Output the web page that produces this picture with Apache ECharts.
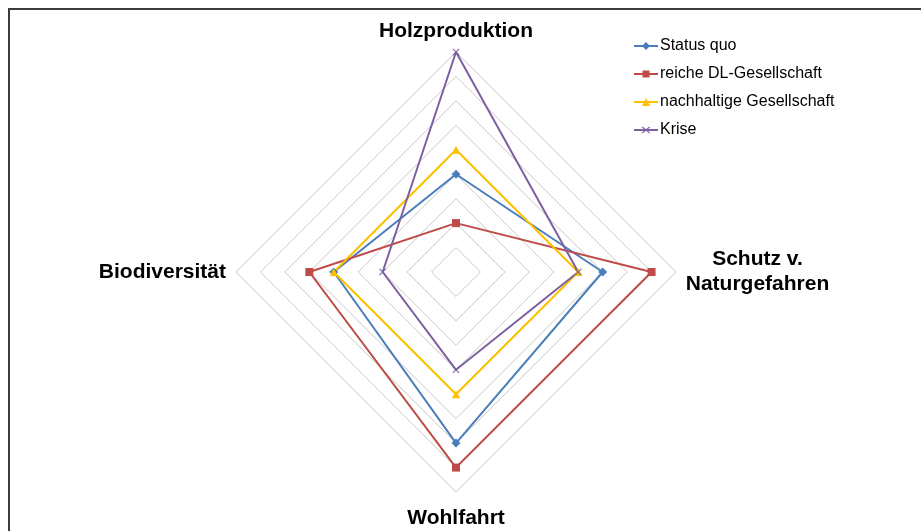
<!DOCTYPE html>
<html>
<head>
<meta charset="utf-8">
<script src="https://cdn.jsdelivr.net/npm/echarts@6/dist/echarts.min.js"></script>
<style>
  html, body { margin: 0; padding: 0; background: #fff; }
  #chart { width: 921px; height: 531px; }
</style>
</head>
<body>
<div id="chart"></div>
<script>
// indicator order follows echarts radar direction (counter-clockwise from top)
var categories = ['Holzproduktion', 'Biodiversität', 'Wohlfahrt', 'Schutz v.\nNaturgefahren']
var seriesNames = ['Status quo', 'reiche DL-Gesellschaft', 'nachhaltige Gesellschaft', 'Krise']
var statusQuo = [4, 5, 7, 6]
var reicheDL = [2, 6, 8, 8]
var nachhaltig = [5, 5, 5, 5]
var krise = [9, 3, 4, 5]
var maxValue = 9

var FONT = 'Liberation Sans, Arial, sans-serif'
var crossPath = 'path://M1,0 L5,4 L9,0 L10,1 L6,5 L10,9 L9,10 L5,6 L1,10 L0,9 L4,5 L0,1 Z'

// legend icons: short line with the marker in the middle (24 x 8 box)
var lineBar = 'M0,3 L24,3 L24,5 L0,5 Z '
var legendIcons = [
  'path://' + lineBar + 'M12,0 L16,4 L12,8 L8,4 Z',
  'path://' + lineBar + 'M8.5,0.5 L15.5,0.5 L15.5,7.5 L8.5,7.5 Z',
  'path://' + lineBar + 'M12,0 L16,8 L8,8 Z',
  'path://' + lineBar + 'M8.5,0.5 L12,3.2 L15.5,0.5 L16.3,1.3 L12.9,4 L16.3,6.7 L15.5,7.5 L12,4.8 L8.5,7.5 L7.7,6.7 L11.1,4 L7.7,1.3 Z'
]

var chart = echarts.init(document.getElementById('chart'))

function makeSeries(name, values, color, symbol, size) {
  return {
    name: name,
    type: 'radar',
    symbol: symbol,
    symbolSize: size,
    lineStyle: { color: color, width: 2 },
    itemStyle: { color: color },
    data: [{ name: name, value: values }]
  }
}

chart.setOption({
  animation: false,
  backgroundColor: '#fff',
  textStyle: { fontFamily: FONT },
  color: ['#4a7ebb', '#be4b48', '#ffc000', '#7d60a0'],
  legend: {
    orient: 'vertical',
    left: 634,
    top: 38,
    padding: 0,
    itemWidth: 24,
    itemHeight: 8,
    itemGap: 12,
    textStyle: { fontSize: 16, color: '#000', fontFamily: FONT, padding: [0, 0, 0, -3] },
    data: seriesNames.map(function (n, i) {
      return { name: n, icon: legendIcons[i] }
    })
  },
  graphic: [{
    type: 'polyline',
    shape: { points: [[9, 531], [9, 9], [921, 9]] },
    style: { stroke: '#3c3c3c', lineWidth: 2, fill: null },
    silent: true
  }],
  radar: {
    center: [456, 272],
    radius: 220,
    startAngle: 90,
    shape: 'polygon',
    splitNumber: 9,
    nameGap: 10,
    indicator: categories.map(function (c) {
      return { name: c, min: 0, max: maxValue }
    }),
    axisName: {
      color: '#000',
      fontSize: 21,
      fontWeight: 'bold',
      fontFamily: FONT,
      formatter: function (name) {
        if (name.indexOf('\n') >= 0) {
          return name.split('\n').map(function (s) { return '{c|' + s + '}' }).join('\n')
        }
        if (name === 'Wohlfahrt') {
          return '{b|' + name + '}'
        }
        return name
      },
      rich: {
        c: {
          width: 143,
          align: 'center',
          fontSize: 21,
          fontWeight: 'bold',
          lineHeight: 25,
          color: '#000',
          fontFamily: FONT
        },
        b: {
          padding: [6, 0, 0, 0],
          fontSize: 21,
          fontWeight: 'bold',
          color: '#000',
          fontFamily: FONT
        }
      }
    },
    axisLine: { show: false },
    axisTick: { show: false },
    axisLabel: { show: false },
    splitArea: { show: false },
    splitLine: { lineStyle: { color: '#c8c8c8', width: 1 } }
  },
  series: [
    makeSeries(seriesNames[0], statusQuo, '#4a7ebb', 'diamond', 9),
    makeSeries(seriesNames[1], reicheDL, '#be4b48', 'rect', 8),
    makeSeries(seriesNames[2], nachhaltig, '#ffc000', 'triangle', 8),
    makeSeries(seriesNames[3], krise, '#7d60a0', crossPath, 7)
  ]
})
</script>
</body>
</html>
